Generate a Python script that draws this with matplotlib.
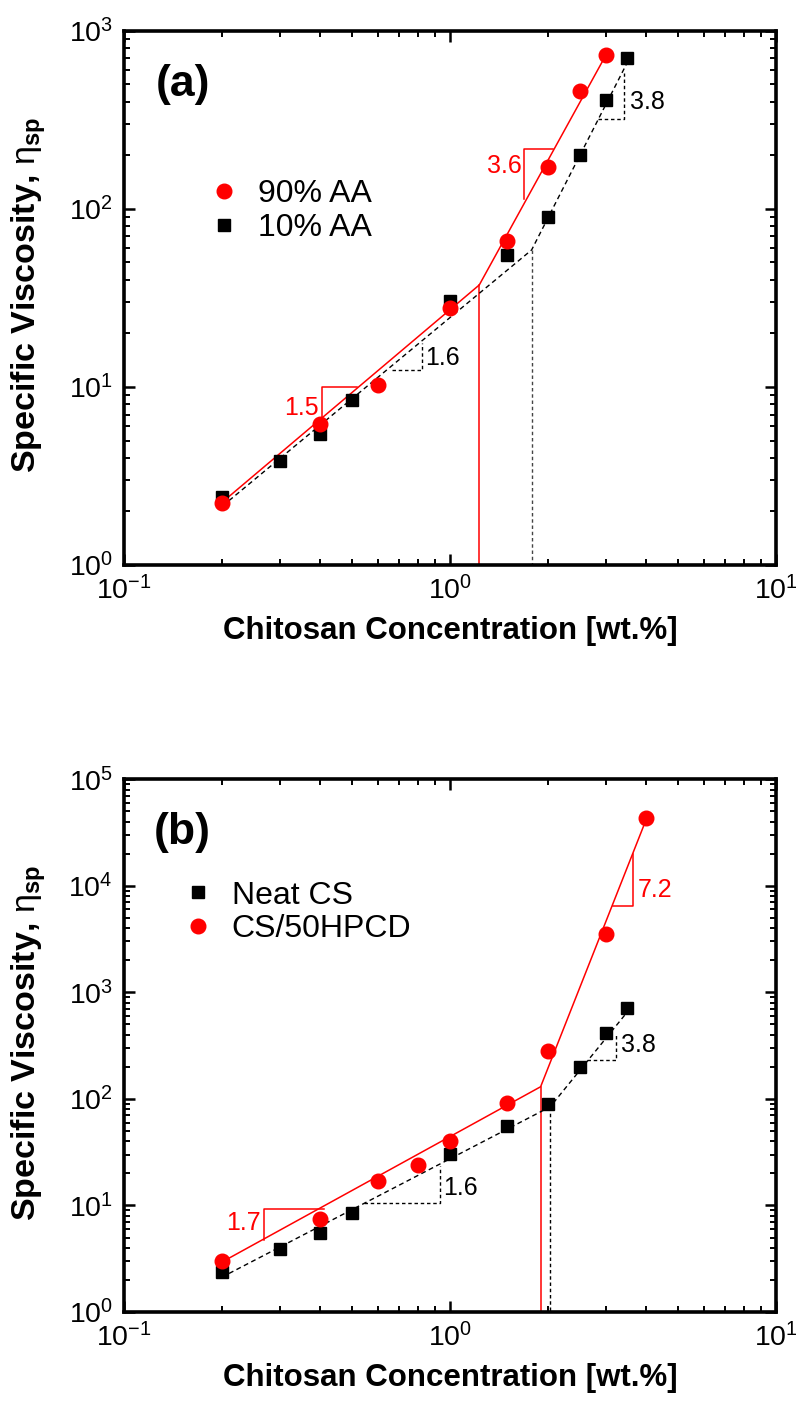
import matplotlib
matplotlib.use('Agg')
import matplotlib.pyplot as plt
from matplotlib.lines import Line2D
from matplotlib.ticker import LogLocator, NullFormatter, LogFormatterSciNotation

plt.rcParams['font.family'] = ['Liberation Sans', 'DejaVu Sans']
plt.rcParams['mathtext.fontset'] = 'custom'
plt.rcParams['mathtext.rm'] = 'Liberation Sans'
plt.rcParams['mathtext.it'] = 'Liberation Sans:italic'
plt.rcParams['mathtext.bf'] = 'Liberation Sans:bold'

RED = '#ff0000'

# ---------------- data ----------------
conc_sq = [0.2, 0.3, 0.4, 0.5, 1.0, 1.5, 2.0, 2.5, 3.0, 3.5]
visc_10AA = [2.4, 3.85, 5.46, 8.4, 30.4, 55.4, 89.8, 200, 408, 708]
conc_90AA = [0.2, 0.4, 0.6, 1.0, 1.5, 2.0, 2.5, 3.0]
visc_90AA = [2.22, 6.2, 10.2, 27.7, 66, 171, 457, 736]

visc_neat = [2.39, 3.87, 5.47, 8.43, 30.2, 55.6, 89.4, 200, 411, 706]
conc_hpcd = [0.2, 0.4, 0.6, 0.8, 1.0, 1.5, 2.0, 3.0, 4.0]
visc_hpcd = [3.03, 7.4, 17.1, 23.8, 40.2, 90.7, 283, 3515, 43000]

# power-law fits (vertices: start, crossover, end)
fit_a_red_x = [0.2, 1.23, 3.0]
fit_a_red_y = [2.25, 37.4, 724]
fit_a_blk_x = [0.21, 1.78, 3.49]
fit_a_blk_y = [2.3, 58.8, 658]
fit_b_red_x = [0.2, 1.897, 4.0]
fit_b_red_y = [2.95, 130, 42000]
fit_b_blk_x = [0.21, 2.03, 3.45]
fit_b_blk_y = [2.3, 84.3, 620]

# slope triangles (leg polylines)
tri_a_red1_x = [0.404, 0.404, 0.52];  tri_a_red1_y = [6.55, 10.04, 10.04]
tri_a_red2_x = [1.692, 1.692, 2.075]; tri_a_red2_y = [113, 216, 216]
tri_a_blk1_x = [0.663, 0.823, 0.823]; tri_a_blk1_y = [12.46, 12.46, 17.6]
tri_a_blk2_x = [2.854, 3.43, 3.43];   tri_a_blk2_y = [320, 320, 580]
tri_b_red1_x = [0.269, 0.269, 0.41];  tri_b_red1_y = [4.7, 9.25, 9.25]
tri_b_red2_x = [3.16, 3.654, 3.654];  tri_b_red2_y = [6440, 6440, 19800]
tri_b_blk1_x = [0.5435, 0.93, 0.93];  tri_b_blk1_y = [10.46, 10.46, 23.5]
tri_b_blk2_x = [2.639, 3.224, 3.224]; tri_b_blk2_y = [231, 231, 400]

slopes_a = ['1.5', '3.6', '1.6', '3.8']
slopes_b = ['1.7', '7.2', '1.6', '3.8']

# ---------------- figure ----------------
fig = plt.figure(figsize=(7.96, 14.02), dpi=100)
axa = fig.add_axes([0.1558, 0.597, 0.819, 0.381])
axb = fig.add_axes([0.1558, 0.0642, 0.819, 0.380])

dash = (0, (3.5, 2.5))
vdash = (0, (2.5, 2.0))
SL_FS = 18


def style(ax, ylim):
    ax.set_xscale('log')
    ax.set_yscale('log')
    ax.set_xlim(0.1, 10)
    ax.set_ylim(*ylim)
    for s in ax.spines.values():
        s.set_linewidth(2.6)
    for axis in (ax.xaxis, ax.yaxis):
        axis.set_major_locator(LogLocator(base=10, numticks=20))
        axis.set_minor_locator(LogLocator(base=10, subs=range(2, 10), numticks=20))
        axis.set_minor_formatter(NullFormatter())
        axis.set_major_formatter(LogFormatterSciNotation())
    ax.tick_params(which='both', direction='in', top=True, right=True,
                   labelsize=20.5, pad=8)
    ax.tick_params(which='major', length=8, width=1.8)
    ax.tick_params(which='minor', length=4.5, width=1.4)
    ax.set_xlabel('Chitosan Concentration [wt.%]', fontsize=22.5,
                  fontweight='bold')
    ax.set_ylabel(r'Specific Viscosity, $\mathrm{\eta}_{\mathbf{sp}}$',
                  fontsize=24.5, fontweight='bold')
    ax.xaxis.set_label_coords(0.5, -0.096)
    ax.yaxis.set_label_coords(-0.117, 0.505)


# ---- panel (a)
style(axa, (1, 1000))
axa.plot(fit_a_red_x, fit_a_red_y, color=RED, lw=1.1, zorder=2)
axa.plot([fit_a_red_x[1]] * 2, [fit_a_red_y[1], 1], color=RED, lw=1.1, zorder=2)
axa.plot(fit_a_blk_x, fit_a_blk_y, color='black', lw=1.0, ls=dash, zorder=2)
axa.plot([fit_a_blk_x[1]] * 2, [fit_a_blk_y[1], 1], color='#444444', lw=1.0,
         ls=vdash, zorder=2)
axa.plot(tri_a_red1_x, tri_a_red1_y, color=RED, lw=1.1)
axa.plot(tri_a_red2_x, tri_a_red2_y, color=RED, lw=1.1)
axa.plot(tri_a_blk1_x, tri_a_blk1_y, color='black', lw=1.0, ls=vdash)
axa.plot(tri_a_blk2_x, tri_a_blk2_y, color='black', lw=1.0, ls=vdash)
axa.plot(conc_sq, visc_10AA, ls='none', marker='s', ms=8.5, color='black',
         zorder=3)
axa.plot(conc_90AA, visc_90AA, ls='none', marker='o', ms=10.5, color=RED,
         zorder=4)
axa.text(0.395, 7.6, slopes_a[0], color=RED, fontsize=SL_FS, ha='right', va='center')
axa.text(1.66, 175, slopes_a[1], color=RED, fontsize=SL_FS, ha='right', va='center')
axa.text(0.839, 14.5, slopes_a[2], color='black', fontsize=SL_FS, ha='left', va='center')
axa.text(3.57, 400, slopes_a[3], color='black', fontsize=SL_FS, ha='left', va='center')
axa.text(0.0905, 0.90, '(a)', transform=axa.transAxes, fontsize=32,
         fontweight='bold', ha='center', va='center')
ha = [Line2D([], [], ls='none', marker='o', ms=10.5, color=RED),
      Line2D([], [], ls='none', marker='s', ms=8.5, color='black')]
axa.legend(ha, ['90% AA', '10% AA'], loc='center left',
           bbox_to_anchor=(0.129, 0.663), frameon=False, fontsize=23,
           handlelength=1.0, handletextpad=0.55, labelspacing=0.12,
           borderpad=0, borderaxespad=0)

# ---- panel (b)
style(axb, (1, 1e5))
axb.plot(fit_b_red_x, fit_b_red_y, color=RED, lw=1.1, zorder=2)
axb.plot([fit_b_red_x[1]] * 2, [fit_b_red_y[1], 1], color=RED, lw=1.1, zorder=2)
axb.plot(fit_b_blk_x, fit_b_blk_y, color='black', lw=1.0, ls=dash, zorder=2)
axb.plot([fit_b_blk_x[1]] * 2, [fit_b_blk_y[1], 1], color='black', lw=1.0,
         ls=vdash, zorder=2)
axb.plot(tri_b_red1_x, tri_b_red1_y, color=RED, lw=1.1)
axb.plot(tri_b_red2_x, tri_b_red2_y, color=RED, lw=1.1)
axb.plot(tri_b_blk1_x, tri_b_blk1_y, color='black', lw=1.0, ls=vdash)
axb.plot(tri_b_blk2_x, tri_b_blk2_y, color='black', lw=1.0, ls=vdash)
axb.plot(conc_sq, visc_neat, ls='none', marker='s', ms=8.5, color='black',
         zorder=3)
axb.plot(conc_hpcd, visc_hpcd, ls='none', marker='o', ms=10.5, color=RED,
         zorder=4)
axb.text(0.262, 6.84, slopes_b[0], color=RED, fontsize=SL_FS, ha='right', va='center')
axb.text(3.77, 9100, slopes_b[1], color=RED, fontsize=SL_FS, ha='left', va='center')
axb.text(0.955, 14.6, slopes_b[2], color='black', fontsize=SL_FS, ha='left', va='center')
axb.text(3.34, 320, slopes_b[3], color='black', fontsize=SL_FS, ha='left', va='center')
axb.text(0.089, 0.90, '(b)', transform=axb.transAxes, fontsize=32,
         fontweight='bold', ha='center', va='center')
hb = [Line2D([], [], ls='none', marker='s', ms=8.5, color='black'),
      Line2D([], [], ls='none', marker='o', ms=10.5, color=RED)]
axb.legend(hb, ['Neat CS', 'CS/50HPCD'], loc='center left',
           bbox_to_anchor=(0.089, 0.750), frameon=False, fontsize=23,
           handlelength=1.0, handletextpad=0.56, labelspacing=0.12,
           borderpad=0, borderaxespad=0)

fig.savefig('out.png', dpi=100)
